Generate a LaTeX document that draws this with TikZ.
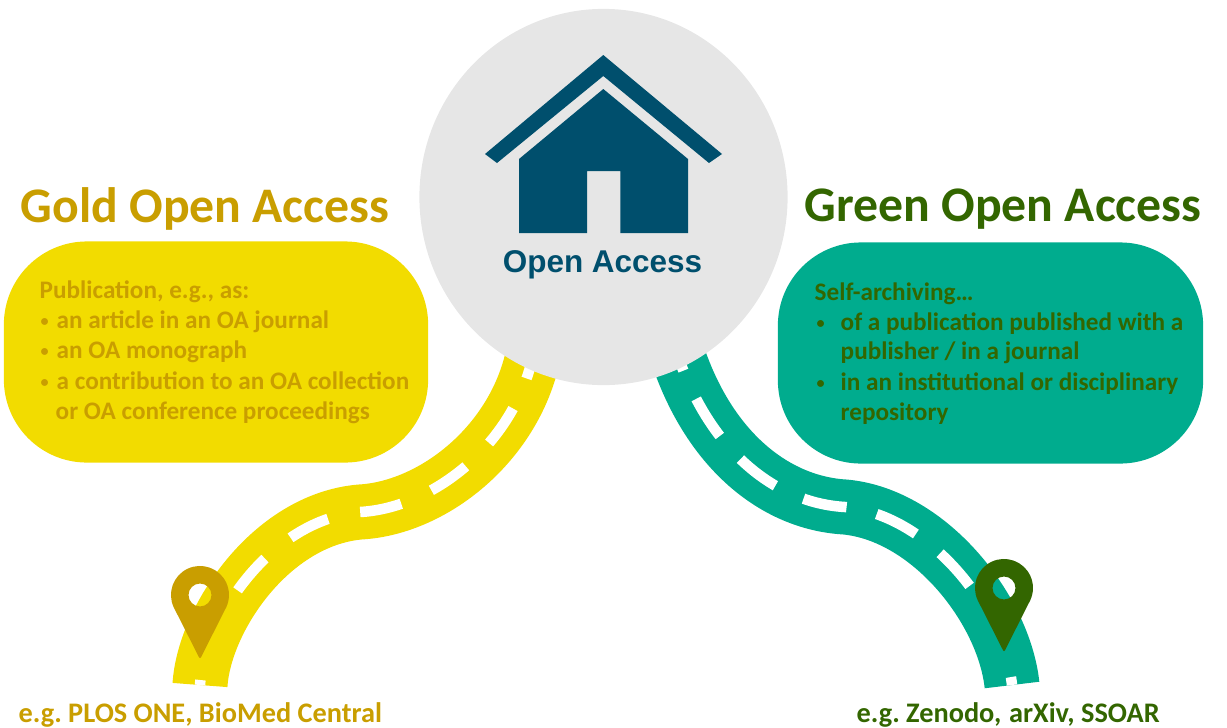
\documentclass[tikz,border=0pt]{standalone}
\usepackage{fontspec}
\setmainfont{Carlito}
\newfontfamily\housefont{Liberation Sans}
\usetikzlibrary{shapes.geometric}
\definecolor{goldbox}{HTML}{F2DC00}
\definecolor{goldtext}{HTML}{C99E00}
\definecolor{greenbox}{HTML}{00AC8E}
\definecolor{greentext}{HTML}{336600}
\definecolor{housecol}{HTML}{004F6D}
\definecolor{circlecol}{HTML}{E6E6E6}
\tikzset{
  title/.style={anchor=base west,inner sep=0pt,font=\fontsize{14.15}{16}\selectfont\bfseries},
  body/.style={anchor=base west,inner sep=0pt,font=\fontsize{7.17}{8}\selectfont\bfseries},
  dot/.style={anchor=base west,inner sep=0pt,font=\fontsize{4.6}{6}\selectfont\bfseries},
  foot/.style={anchor=base west,inner sep=0pt,font=\fontsize{8.05}{9}\selectfont\bfseries},
  panel/.style={draw=none,rectangle,rounded corners=0.83cm,inner sep=0pt,minimum width=#1,minimum height=2.21cm},
  road/.style={line width=0.55cm,line cap=butt},
  stripe/.style={draw=white,line width=0.105cm,line cap=butt},
  goldstripe/.style={stripe,dash pattern=on 0.05cm off 0.98cm on 0.42cm off 0.33cm on 0.42cm off 0.33cm on 0.42cm off 0.33cm on 0.42cm off 0.33cm on 0.42cm off 0.33cm on 0.42cm off 0.33cm on 0.42cm off 0.33cm},
  greenstripe/.style={stripe,dash pattern=on 0.08cm off 1.01cm on 0.44cm off 0.31cm on 0.44cm off 0.31cm on 0.44cm off 0.31cm on 0.44cm off 0.31cm on 0.44cm off 0.31cm on 0.44cm off 0.31cm on 0.44cm off 0.31cm},
  mappin/.pic={
    \path[pic actions,even odd rule,line width=0.02cm,line join=round]
      (0,62) -- (-25.4,11.8) arc[start angle=155,end angle=385,radius=28] -- cycle
      (0,0) circle[radius=12.5];
  }
}
\begin{document}
\begin{tikzpicture}[x=0.01cm,y=-0.01cm]
\useasboundingbox (0,0) rectangle (1227,727);
\coordinate (goldfoot) at (200,685);
\coordinate (goldbend) at (360,512);
\coordinate (goldtop) at (535,345);
\coordinate (greenfoot) at (1012,685);
\coordinate (greenbend) at (845,507);
\coordinate (greentop) at (676,350);

\path[draw=goldbox,road] (goldfoot) .. controls (204,620) and (270,520) .. (goldbend) .. controls (435,508) and (520,440) .. (goldtop);
\path[goldstripe] (goldfoot) .. controls (204,620) and (270,520) .. (goldbend) .. controls (435,508) and (520,440) .. (goldtop);
\path[draw=greenbox,road] (greenfoot) .. controls (1004,610) and (930,515) .. (greenbend) .. controls (775,503) and (708,450) .. (greentop);
\path[greenstripe] (greenfoot) .. controls (1004,610) and (930,515) .. (greenbend) .. controls (775,503) and (708,450) .. (greentop);

\node[ellipse,fill=circlecol,inner sep=0pt,minimum width=3.68cm,minimum height=3.76cm] (oa) at (603.5,197) {};
\node[panel=4.24cm,fill=goldbox] (goldpanel) at (216,352) {};
\node[panel=4.25cm,fill=greenbox] (greenpanel) at (990.5,353) {};

\fill[housecol] (603.3,55) -- (722,154) -- (709,163) -- (603.3,76) -- (497,163) -- (485,154) -- cycle;
\fill[housecol] (603.3,89) -- (688,159) -- (688,233) -- (620.3,233) -- (620.3,171) -- (587,171) -- (587,233) -- (519,233) -- (519,159) -- cycle;
\node[anchor=base,inner sep=0pt,text=housecol,font=\housefont\fontsize{8.95}{10}\selectfont\bfseries] (oalabel) at (602.5,272) {Open Access};

\node[title,text=goldtext] (goldtitle) at (20,222) {Gold Open Access};
\node[body,text=goldtext] (gold0) at (39,298) {Publication, e.g., as:};
\node[dot,text=goldtext] (goldb1) at (40,326.5) {\textbullet};
\node[body,text=goldtext] (gold1) at (56,328.5) {an article in an OA journal};
\node[dot,text=goldtext] (goldb2) at (40,356.5) {\textbullet};
\node[body,text=goldtext] (gold2) at (56,358.5) {an OA monograph};
\node[dot,text=goldtext] (goldb3) at (40,387.5) {\textbullet};
\node[body,text=goldtext] (gold3) at (56,389.5) {a contribution to an OA collection};
\node[body,text=goldtext] (gold4) at (55,419) {or OA conference proceedings};

\node[title,text=greentext] (greentitle) at (804,221.5) {Green Open Access};
\node[body,text=greentext] (green0) at (814,300.5) {Self-archiving\dots};
\node[dot,text=greentext] (greenb1) at (816,328.5) {\textbullet};
\node[body,text=greentext] (green1) at (840,330.5) {of a publication published with a};
\node[body,text=greentext] (green2) at (840,359.5) {publisher / in a journal};
\node[dot,text=greentext] (greenb2) at (816,388.5) {\textbullet};
\node[body,text=greentext] (green3) at (840,390.5) {in an institutional or disciplinary};
\node[body,text=greentext] (green4) at (840,420) {repository};

\pic[fill=goldtext,draw=goldtext] at (200,595) {mappin};
\pic[fill=greentext,draw=greentext] at (1004,588) {mappin};

\node[foot,text=goldtext] (goldfootlabel) at (18,722) {e.g.\ PLOS ONE, BioMed Central};
\node[foot,text=greentext] (greenfootlabel) at (856,722) {e.g.\ Zenodo,\ \hspace{0.05em}arXiv, SSOAR};
\end{tikzpicture}
\end{document}
